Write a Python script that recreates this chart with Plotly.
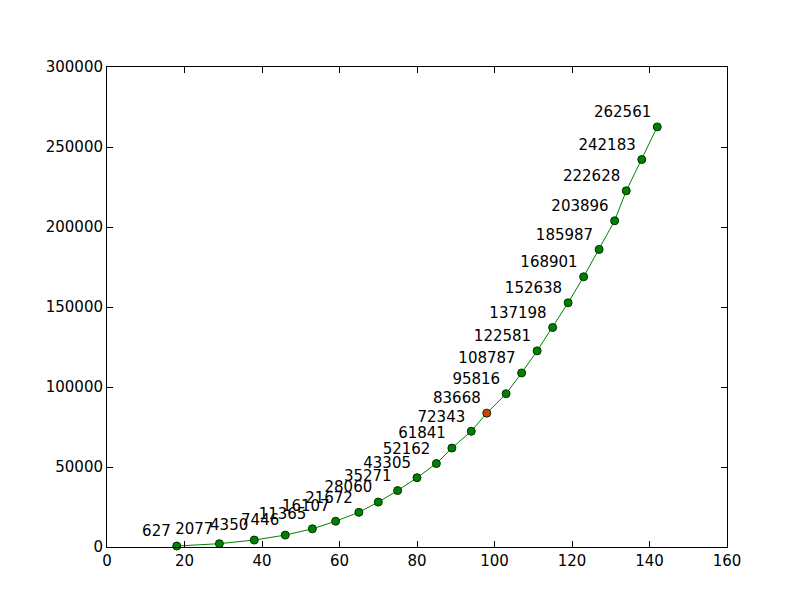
import plotly.graph_objects as go

x_vals = [18, 29, 38, 46, 53, 59, 65, 70, 75, 80, 85, 89, 94, 98, 103, 107, 111, 115, 119, 123, 127, 131, 134, 138, 142]
y_vals = [627, 2077, 4350, 7446, 11365, 16107, 21672, 28060, 35271, 43305, 52162, 61841, 72343, 83668, 95816,
          108787, 122581, 137198, 152638, 168901, 185987, 203896, 222628, 242183, 262561]
highlight_index = 13

colors = ["#008000"] * len(x_vals)
colors[highlight_index] = "#d04000"

fig = go.Figure()
fig.add_trace(go.Scatter(
    x=x_vals, y=y_vals, mode="lines+markers+text",
    line=dict(color="#008000", width=1),
    marker=dict(size=8, color=colors, line=dict(color="#003000", width=1)),
    text=[str(v) for v in y_vals], textposition="top left",
    textfont=dict(family="DejaVu Sans", size=15, color="black"),
    cliponaxis=False,
))
axis = dict(showgrid=False, zeroline=False, showline=True, mirror="ticks", linecolor="black",
            ticks="inside", ticklen=6, tickcolor="black", automargin=False,
            tickfont=dict(family="DejaVu Sans", size=15, color="black"))
fig.update_xaxes(range=[0, 160], dtick=20, **axis)
fig.update_yaxes(range=[0, 300000], dtick=50000, tickformat="d", **axis)
fig.update_layout(width=800, height=600, margin=dict(l=99, r=81, t=59, b=61),
                  plot_bgcolor="white", paper_bgcolor="white", showlegend=False)
fig.write_html("out.html")
